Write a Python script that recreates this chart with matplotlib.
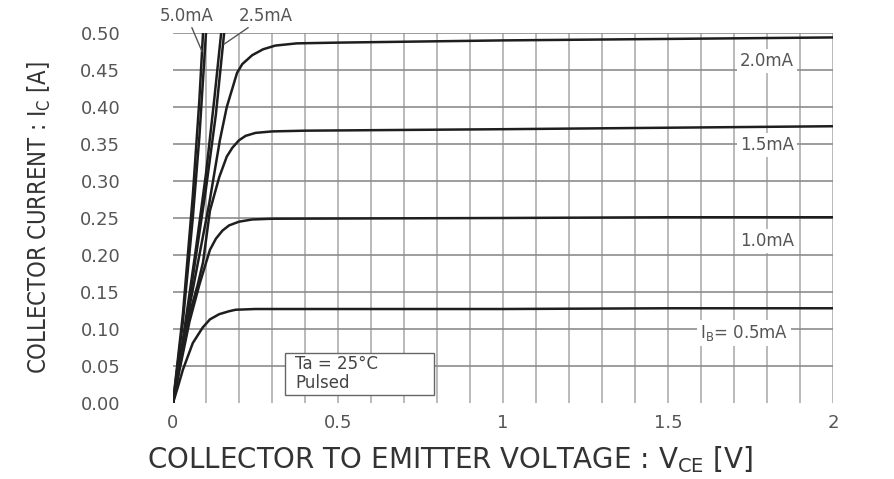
import matplotlib
matplotlib.use("Agg")
import matplotlib.pyplot as plt
import numpy as np

# Ic-Vce curves
v_05 = [0, 0.015, 0.03, 0.06, 0.09, 0.112, 0.14, 0.17, 0.19, 0.25, 0.5, 1.0, 1.5, 2.0]
i_05 = [0, 0.022, 0.045, 0.081, 0.102, 0.113, 0.120, 0.124, 0.126, 0.127, 0.127, 0.127, 0.128, 0.128]

v_10 = [0, 0.02, 0.05, 0.08, 0.097, 0.112, 0.13, 0.15, 0.17, 0.2, 0.24, 0.3, 1.0, 1.5, 2.0]
i_10 = [0, 0.045, 0.11, 0.16, 0.185, 0.207, 0.222, 0.233, 0.240, 0.245, 0.248, 0.249, 0.250, 0.251, 0.251]

v_15 = [0, 0.02, 0.05, 0.075, 0.091, 0.112, 0.14, 0.163, 0.18, 0.2, 0.22, 0.25, 0.3, 0.4, 1.0, 1.5, 2.0]
i_15 = [0, 0.05, 0.12, 0.16, 0.19, 0.26, 0.305, 0.333, 0.345, 0.355, 0.361, 0.365, 0.367, 0.368, 0.370, 0.372, 0.374]

v_20 = [0, 0.02, 0.05, 0.08, 0.11, 0.142, 0.163, 0.194, 0.21, 0.24, 0.273, 0.31, 0.375, 0.5, 1.0, 1.5, 2.0]
i_20 = [0, 0.055, 0.13, 0.2, 0.27, 0.355, 0.4, 0.446, 0.458, 0.470, 0.478, 0.483, 0.486, 0.487, 0.490, 0.492, 0.494]

v_25 = [0, 0.03, 0.07, 0.1, 0.13, 0.155]
i_25 = [0, 0.08, 0.2, 0.29, 0.39, 0.5]

v_30 = [0, 0.03, 0.07, 0.1, 0.125, 0.146]
i_30 = [0, 0.085, 0.21, 0.31, 0.41, 0.5]

v_40 = [0, 0.03, 0.06, 0.08, 0.1]
i_40 = [0, 0.11, 0.25, 0.36, 0.5]

v_50 = [0, 0.03, 0.06, 0.08, 0.091]
i_50 = [0, 0.12, 0.28, 0.41, 0.5]

y_ticks = [0.00, 0.05, 0.10, 0.15, 0.20, 0.25, 0.30, 0.35, 0.40, 0.45, 0.50]
x_ticks = [0, 0.5, 1, 1.5, 2]
x_tick_labels = ["0", "0.5", "1", "1.5", "2"]

curve_labels = ["2.0mA", "1.5mA", "1.0mA", "I$_{\\mathregular{B}}$= 0.5mA"]
curve_label_pos = [(1.80, 0.462), (1.80, 0.349), (1.80, 0.219), (1.73, 0.095)]

plt.rcParams["font.family"] = ["DejaVu Sans"]

fig = plt.figure(figsize=(8.94, 4.79), dpi=100)
ax = fig.add_axes([0.1935, 0.1587, 0.7383, 0.7724])

ax.set_xlim(0, 2)
ax.set_ylim(0, 0.5)

# grid: every 0.1 V vertically, every 0.05 A horizontally
for x in np.arange(0.1, 2.01, 0.1):
    ax.axvline(x, color="#b4b4b4", linewidth=1.3, zorder=1)
for y in y_ticks[1:]:
    ax.axhline(y, color="#8c8c8c", linewidth=1.2, zorder=1)

line_kw = dict(color="#1e1e1e", linewidth=1.8, zorder=3, solid_capstyle="round")
for v, i in [(v_05, i_05), (v_10, i_10), (v_15, i_15), (v_20, i_20),
             (v_25, i_25), (v_30, i_30), (v_40, i_40), (v_50, i_50)]:
    ax.plot(v, i, **line_kw)

for lab, (x, y) in zip(curve_labels, curve_label_pos):
    ax.text(x, y, lab, ha="center", va="center", fontsize=12, color="#555555",
            zorder=4, bbox=dict(facecolor="white", edgecolor="none", pad=2))

# labels of the steep curves, above the plot with leader lines
ax.annotate("5.0mA", xy=(0.088, 0.475), xytext=(0.042, 0.511),
            textcoords="data", ha="center", va="bottom", fontsize=12,
            color="#555555", annotation_clip=False,
            arrowprops=dict(arrowstyle="-", color="#555555", linewidth=1.0, shrinkA=0, shrinkB=0))
ax.annotate("2.5mA", xy=(0.155, 0.485), xytext=(0.28, 0.511),
            textcoords="data", ha="center", va="bottom", fontsize=12,
            color="#555555", annotation_clip=False,
            arrowprops=dict(arrowstyle="-", color="#555555", linewidth=1.0, shrinkA=0, shrinkB=0))

ax.add_patch(plt.Rectangle((0.34, 0.011), 0.45, 0.057, facecolor="white",
                           edgecolor="#666666", linewidth=1.0, zorder=5))
ax.text(0.37, 0.040, "Ta = 25\u00b0C\nPulsed", ha="left", va="center", fontsize=12,
        color="#444444", linespacing=1.05, zorder=6)

for s in ax.spines.values():
    s.set_visible(False)
ax.tick_params(length=0, labelsize=13, labelcolor="#555555")
ax.tick_params(axis="y", pad=38)
ax.tick_params(axis="x", pad=8)
ax.set_yticks(y_ticks)
ax.set_yticklabels([f"{y:.2f}" for y in y_ticks])
ax.set_xticks(x_ticks)
ax.set_xticklabels(x_tick_labels)

fig.text(0.503, 0.04, "COLLECTOR TO EMITTER VOLTAGE : V$_{\\mathregular{CE}}$ [V]",
         ha="center", va="center", fontsize=20, color="#333333")
fig.text(0.044, 0.545, "COLLECTOR CURRENT : I$_{\\mathregular{C}}$ [A]",
         ha="center", va="center", rotation=90, fontsize=17, color="#333333",
         fontstretch="condensed")

fig.savefig("out.png", dpi=100)
